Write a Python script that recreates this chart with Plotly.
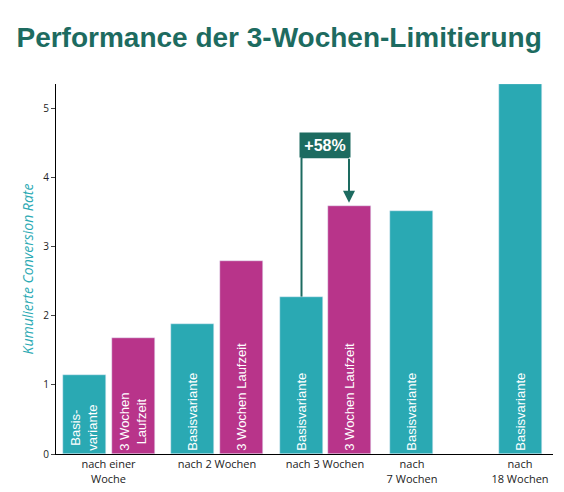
import plotly.graph_objects as go

# data
base_values = [1.15, 1.88, 2.28, 3.52, 5.36]
base_labels = ["Basis-<br>variante", "Basisvariante", "Basisvariante", "Basisvariante", "Basisvariante"]
long_values = [1.68, 2.79, 3.59]
long_labels = ["3 Wochen<br>Laufzeit", "3 Wochen Laufzeit", "3 Wochen Laufzeit"]
group_labels = ["nach einer<br>Woche", "nach 2 Wochen", "nach 3 Wochen", "nach<br>7 Wochen", "nach<br>18 Wochen"]
y_ticks = [0, 1, 2, 3, 4, 5]

TEAL = "#2aa9b3"
MAGENTA = "#b8348a"
DARK = "#1d6b60"
BAR_FONT = dict(color="white", size=13, family="Liberation Sans Narrow, Arial Narrow, Liberation Sans")

# bar centres on a pixel-like x axis
base_x = [76.5, 184.5, 293.5, 403, 512]
long_x = [125, 233, 341]
group_x = [100.5, 209, 317, 404, 512]

fig = go.Figure()
fig.add_bar(x=base_x, y=base_values, width=43, marker_color=TEAL, text=base_labels,
            textangle=-90, textposition="inside", insidetextanchor="start",
            textfont=BAR_FONT, hoverinfo="y")
fig.add_bar(x=long_x, y=long_values, width=43, marker_color=MAGENTA, text=long_labels,
            textangle=-90, textposition="inside", insidetextanchor="start",
            textfont=BAR_FONT, hoverinfo="y")

y_line = 4.3
fig.add_shape(type="line", x0=293.5, x1=293.5, y0=base_values[2], y1=y_line, line=dict(color=DARK, width=2))
fig.add_shape(type="line", x0=293.5, x1=341, y0=y_line, y1=y_line, line=dict(color=DARK, width=2))
fig.add_annotation(x=341, y=long_values[2] + 0.05, ax=341, ay=y_line, xref="x", yref="y", axref="x", ayref="y",
                   text="", showarrow=True, arrowhead=2, arrowsize=1.2, arrowwidth=2, arrowcolor=DARK)
fig.add_annotation(x=317, y=4.47, text="<b>+58%</b>", showarrow=False, bgcolor=DARK,
                   font=dict(color="white", size=16, family="Liberation Sans"),
                   width=48, height=22, borderpad=1)

fig.update_layout(
    width=564, height=492, showlegend=False, bargap=0,
    margin=dict(l=48, r=19, t=76, b=46),
    paper_bgcolor="white", plot_bgcolor="white",
    title=dict(text="<b>Performance der 3-Wochen-Limitierung</b>", x=0.015, xanchor="left",
               y=0.94, yanchor="middle",
               font=dict(color=DARK, size=28, family="Liberation Sans Narrow, Liberation Sans")),
    xaxis=dict(range=[48, 545], tickvals=group_x, ticktext=group_labels, showline=True, linecolor="black",
               ticks="", tickfont=dict(size=11, color="#222"), showgrid=False, zeroline=False,
               automargin=False),
    yaxis=dict(range=[0, 5.36], tickvals=y_ticks, showline=True, linecolor="black", ticks="outside",
               ticklen=4, tickfont=dict(size=10, color="#222"), showgrid=False, zeroline=False,
               automargin=False,
               title=dict(text="<i>Kumulierte Conversion Rate</i>", font=dict(color=TEAL, size=14), standoff=6)),
)
fig.write_html("out.html")
